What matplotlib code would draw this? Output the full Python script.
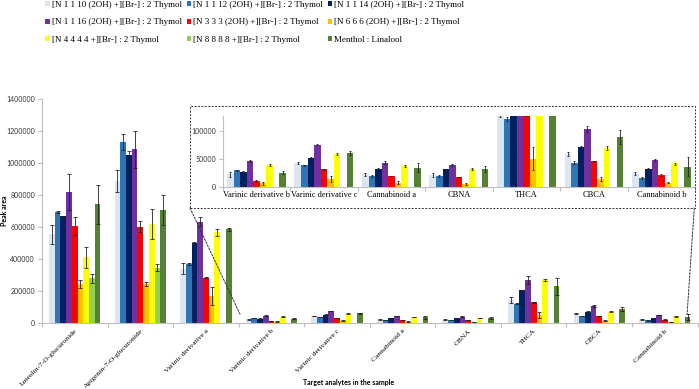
import numpy as np
import matplotlib
matplotlib.use("Agg")
import matplotlib.pyplot as plt
from matplotlib.patches import Rectangle, ConnectionPatch

# Data
categories = ["Luteolin-7-O-glucuronide", "Apigenin-7-O-glucuronide", "Varinic derivative a",
              "Varinic derivative b", "Varinic derivative c", "Cannabinoid a", "CBNA",
              "THCA", "CBCA", "Cannabinoid b"]

series = ["[N 1 1 10 (2OH) +][Br-] : 2 Thymol", "[N 1 1 12 (2OH) +][Br-] : 2 Thymol",
          "[N 1 1 14 (2OH) +][Br-] : 2 Thymol", "[N 1 1 16 (2OH) +][Br-] : 2 Thymol",
          "[N 3 3 3 (2OH) +][Br-] : 2 Thymol", "[N 6 6 6 (2OH) +][Br-] : 2 Thymol",
          "[N 4 4 4 4 +][Br-] : 2 Thymol", "[N 8 8 8 8 +][Br-] : 2 Thymol",
          "Menthol : Linalool"]

n1110 = [554000, 887000, 339000, 22000, 42000, 22000, 21000, 142000, 58000, 24000]
n1110_err = [60000, 71000, 34000, 4000, 2000, 3000, 3500, 17000, 3000, 3000]
n1112 = [692000, 1129000, 369000, 29000, 38000, 19000, 19000, 121000, 43000, 15000]
n1112_err = [5000, 50000, 5000, 1000, 1500, 1000, 1000, 4000, 2000, 1500]
n1114 = [665000, 1048000, 502000, 27000, 52000, 32000, 31000, 204000, 71000, 32000]
n1114_err = [3000, 23000, 5000, 1000, 1000, 1000, 1000, 3000, 1000, 1000]
n1116 = [817000, 1085000, 633000, 46000, 75000, 43000, 39000, 267000, 103000, 48000]
n1116_err = [111000, 115000, 27000, 2000, 1000, 2000, 2000, 25000, 6000, 1500]
n333 = [604000, 602000, 283000, 11000, 31000, 19000, 17000, 129000, 45000, 21000]
n333_err = [55000, 35000, 3000, 500, 500, 500, 500, 3000, 1000, 1500]
n666 = [242000, 244000, 169000, 6000, 14000, 7000, 5000, 50000, 14000, 7000]
n666_err = [23000, 12000, 57000, 3000, 5000, 2500, 2500, 20000, 4000, 1000]
n4444 = [410000, 619000, 565000, 39000, 58000, 37000, 32000, 267000, 69000, 40000]
n4444_err = [67000, 94000, 24000, 2000, 1500, 1000, 1500, 5000, 4000, 2000]
n8888 = [279000, 344000, 0, 0, 0, 0, 0, 0, 0, 0]
n8888_err = [28000, 23000, 0, 0, 0, 0, 0, 0, 0, 0]
menthol = [740000, 704000, 585000, 25000, 60000, 34000, 32000, 229000, 89000, 36000]
menthol_err = [123000, 94000, 8000, 3000, 3000, 8000, 5000, 52000, 12000, 17000]

values = [n1110, n1112, n1114, n1116, n333, n666, n4444, n8888, menthol]
errors = [n1110_err, n1112_err, n1114_err, n1116_err, n333_err, n666_err, n4444_err, n8888_err, menthol_err]
colors = ["#DCE6F2", "#2E75B6", "#002060", "#7030A0", "#FF0000",
          "#FFC000", "#FFFF00", "#92D050", "#548235"]

serif = "Liberation Serif"
sans = "Lato"
spine_col = "#BFBFBF"

fig = plt.figure(figsize=(6.99, 3.89), dpi=100)
ax = fig.add_axes([0.060, 0.170, 0.938, 0.576])


def draw_bars(axis, idx, bw, capsize):
    x = np.arange(len(idx))
    handles = []
    for k, (vals, errs, c) in enumerate(zip(values, errors, colors)):
        v = np.array([vals[i] for i in idx], dtype=float)
        e = np.array([errs[i] for i in idx], dtype=float)
        pos = x + (k - 4) * bw
        h = axis.bar(pos, v, width=bw, color=c, zorder=2)
        handles.append(h)
        m = v > 0
        axis.errorbar(pos[m], v[m], yerr=e[m], fmt="none", ecolor="#222222",
                      elinewidth=0.6, capsize=capsize, capthick=0.6, zorder=3)
    return handles


def style_axis(axis, n):
    for s in ["top", "right"]:
        axis.spines[s].set_visible(False)
    for s in ["left", "bottom"]:
        axis.spines[s].set_color(spine_col)
        axis.spines[s].set_linewidth(0.8)
    axis.set_xlim(-0.5, n - 0.5)
    axis.set_xticks(np.arange(n))
    axis.set_xticks(np.arange(n + 1) - 0.5, minor=True)
    axis.tick_params(axis="x", which="major", length=0)
    axis.tick_params(axis="x", which="minor", length=3, color=spine_col, width=0.8)
    axis.tick_params(axis="y", length=3, color=spine_col, width=0.8, labelsize=5, pad=2)


# Main chart
handles = draw_bars(ax, list(range(10)), 0.087, 1.4)
style_axis(ax, 10)
ax.set_ylim(0, 1400000)
ax.set_yticks(range(0, 1400001, 200000))
ax.set_yticklabels([str(v) for v in range(0, 1400001, 200000)], family=sans, fontsize=5, color="#333333")
ax.set_xticklabels(categories, rotation=45, ha="right", va="top", rotation_mode="anchor",
                   family=serif, fontsize=5.4)
ax.tick_params(axis="x", which="major", pad=4)
ax.set_ylabel("Peak area", family=sans, fontsize=5, fontweight="bold")
ax.yaxis.set_label_coords(-0.052, 0.5)
fig.text(349 / 699, 1 - 382 / 389, "Target analytes in the sample", ha="center", va="center",
         family=sans, fontsize=5, fontweight="bold")

# Inset chart
ins = fig.add_axes([0.3186, 0.520, 0.676, 0.1818])
inset_idx = list(range(3, 10))
draw_bars(ins, inset_idx, 0.097, 1.0)
style_axis(ins, len(inset_idx))
ins.set_ylim(0, 126000)
ins.set_yticks([0, 50000, 100000])
ins.set_yticklabels(["0", "50000", "100000"], family=sans, fontsize=5, color="#333333")
ins.set_xticklabels([categories[i] for i in inset_idx], family=serif, fontsize=6)
ins.tick_params(axis="x", which="major", pad=3)
ins.patch.set_alpha(0)

# Dashed box and connector lines
box_l, box_r, box_t, box_b = 190 / 699, 695 / 699, 1 - 105.7 / 389, 1 - 208 / 389
fig.add_artist(Rectangle((box_l, box_b), box_r - box_l, box_t - box_b, transform=fig.transFigure,
                         fill=False, ls=(0, (2, 1.5)), lw=0.7, ec="#333333"))
for fx, dx in [(box_l, 2.52), (box_r - 0.001, 9.34)]:
    con = ConnectionPatch(xyA=(fx, box_b), coordsA="figure fraction",
                          xyB=(dx, 55000), coordsB=ax.transData,
                          ls=(0, (2, 1.5)), lw=0.7, color="#333333")
    fig.add_artist(con)

# Legend (row-wise order)
order = [0, 3, 6, 1, 4, 7, 2, 5, 8]
fig.legend([handles[i] for i in order], [series[i] for i in order], ncol=3,
           loc="upper left", bbox_to_anchor=(0.056, 1.014), frameon=False,
           prop={"family": serif, "size": 6.5}, handlelength=0.45, handleheight=0.45,
           handletextpad=0.25, columnspacing=0.55, labelspacing=1.05, borderpad=0.2)

fig.savefig("out.png", dpi=100, facecolor="white")
